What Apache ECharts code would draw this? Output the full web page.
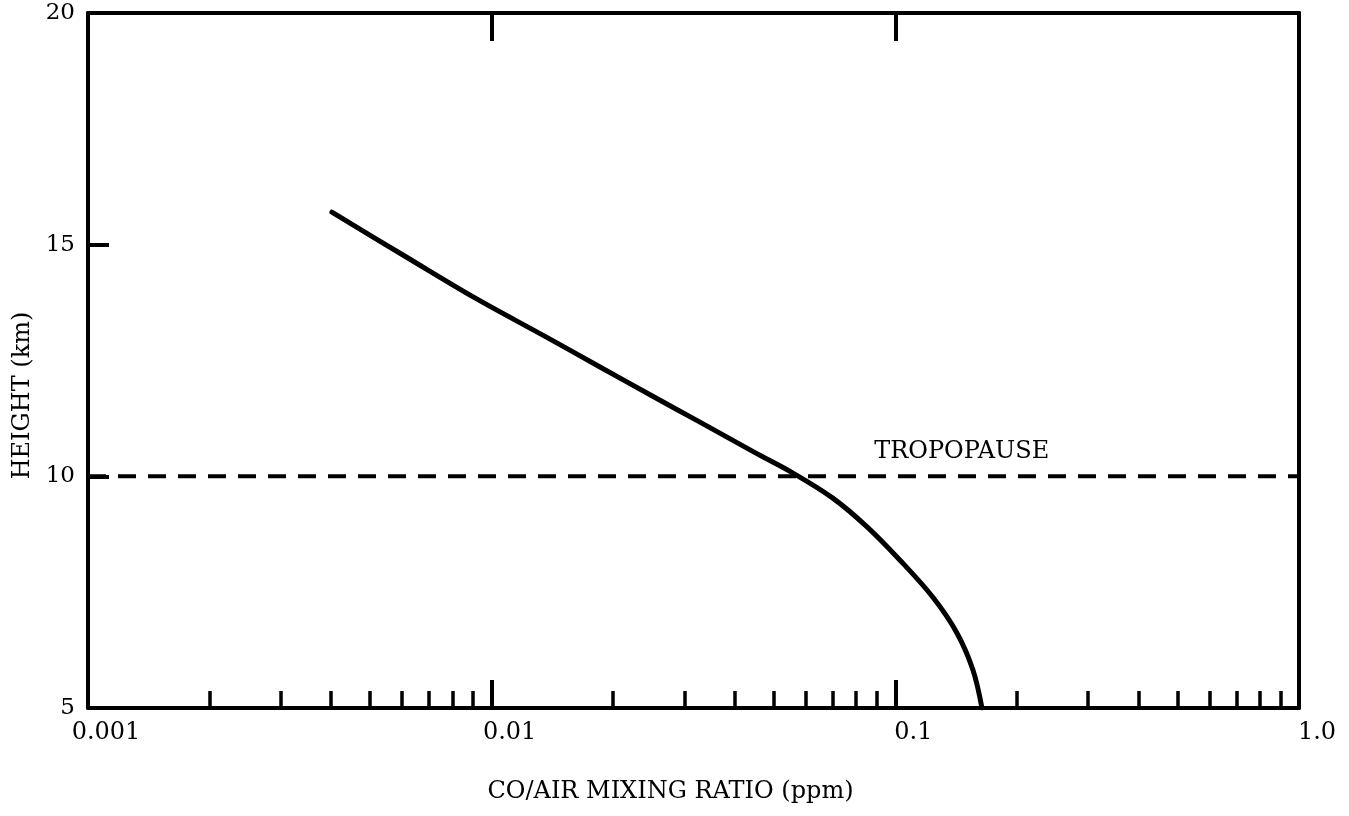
<!DOCTYPE html>
<html>
<head>
<meta charset="utf-8">
<script src="https://cdn.jsdelivr.net/npm/echarts@6/dist/echarts.min.js"></script>
<style>
  html, body { margin: 0; padding: 0; background: #fff; }
  #chart { width: 1349px; height: 816px; }
</style>
</head>
<body>
<div id="chart"></div>
<script>
// ---- data ----
const coMixingRatio = [0.00402, 0.00610, 0.00909, 0.01363, 0.01855, 0.02481, 0.03281, 0.04515, 0.05578, 0.0700, 0.0851, 0.1027, 0.1239, 0.1421, 0.1557, 0.1639];
const heightKm      = [15.70, 14.75, 13.85, 13.01, 12.36, 11.75, 11.17, 10.50, 10.07, 9.53, 8.91, 8.19, 7.39, 6.62, 5.82, 5.0];

const tropopauseX = [0.001, 1.0];
const tropopauseY = [10, 10];
const tropopauseText = 'TROPOPAUSE';
const tropopauseLabelAt = [0.146, 10.52];

const xTickValues = [0.001, 0.01, 0.1, 1];
const xTickLabels = ['0.001', '0.01', '0.1', '1.0'];
const xMinorTicks = [0.002, 0.003, 0.004, 0.005, 0.006, 0.007, 0.008, 0.009,
                     0.02, 0.03, 0.04, 0.05, 0.06, 0.07, 0.08, 0.09,
                     0.2, 0.3, 0.4, 0.5, 0.6, 0.7, 0.8, 0.9];
const yTickValues = [5, 10, 15, 20];

const xName = 'CO/AIR MIXING RATIO (ppm)';
const yName = 'HEIGHT (km)';

// ---- chart ----
const FONT = 'DejaVu Serif';
const INK = '#000';

const curve = coMixingRatio.map((x, i) => [x, heightKm[i]]);
const tropo = tropopauseX.map((x, i) => [x, tropopauseY[i]]);

const chart = echarts.init(document.getElementById('chart'), null, { renderer: 'canvas' });

const xBase = {
  type: 'log', logBase: 10, min: xTickValues[0], max: xTickValues[xTickValues.length - 1],
  splitLine: { show: false }, minorTick: { show: false }, minorSplitLine: { show: false }
};

chart.setOption({
  animation: false,
  backgroundColor: '#fff',
  grid: { left: 88, right: 50, top: 13, bottom: 108, containLabel: false },
  xAxis: [
    Object.assign({}, xBase, {
      position: 'bottom',
      name: xName, nameLocation: 'middle', nameGap: 72,
      nameTextStyle: { fontFamily: FONT, fontSize: 24, color: INK, padding: [0, 46, 0, 0] },
      axisLine: { show: true, lineStyle: { color: INK, width: 4 } },
      axisTick: { show: true, inside: true, length: 28, lineStyle: { color: INK, width: 4 } },
      axisLabel: {
        show: true, margin: 13, fontFamily: FONT, fontSize: 24, color: INK,
        padding: [0, 0, 0, 36],
        formatter: v => { const i = xTickValues.findIndex(t => Math.abs(t - v) / t < 1e-6); return i >= 0 ? xTickLabels[i] : ''; }
      }
    }),
    Object.assign({}, xBase, {
      position: 'bottom',
      axisLine: { show: false },
      axisTick: { show: true, inside: true, length: 17, customValues: xMinorTicks, lineStyle: { color: INK, width: 3.5 } },
      axisLabel: { show: false }
    }),
    Object.assign({}, xBase, {
      position: 'top',
      axisLine: { show: true, lineStyle: { color: INK, width: 4 } },
      axisTick: { show: true, inside: true, length: 28, lineStyle: { color: INK, width: 4 } },
      axisLabel: { show: false }
    })
  ],
  yAxis: [
    {
      type: 'value', position: 'left', min: yTickValues[0], max: yTickValues[yTickValues.length - 1], interval: 5,
      name: yName, nameLocation: 'middle', nameGap: 52, nameRotate: 90,
      nameTextStyle: { fontFamily: FONT, fontSize: 24, color: INK, padding: [0, 70, 0, 0] },
      axisLine: { show: true, lineStyle: { color: INK, width: 4 } },
      axisTick: { show: true, inside: true, length: 21, lineStyle: { color: INK, width: 4 } },
      axisLabel: { show: true, margin: 13, fontFamily: FONT, fontSize: 23, color: INK },
      splitLine: { show: false }
    },
    {
      type: 'value', position: 'right', min: yTickValues[0], max: yTickValues[yTickValues.length - 1], interval: 5,
      axisLine: { show: true, lineStyle: { color: INK, width: 4 } },
      axisTick: { show: false }, axisLabel: { show: false }, splitLine: { show: false }
    }
  ],
  series: [
    {
      type: 'line', xAxisIndex: 0, yAxisIndex: 0, data: tropo,
      showSymbol: false, symbol: 'none', silent: true,
      lineStyle: { color: INK, width: 4, type: [18, 12] },
      markPoint: {
        symbol: 'circle', symbolSize: 0, silent: true,
        label: { show: true, position: 'inside', formatter: tropopauseText, fontFamily: FONT, fontSize: 24, color: INK },
        data: [{ coord: tropopauseLabelAt }]
      }
    },
    {
      type: 'line', xAxisIndex: 0, yAxisIndex: 0, data: curve,
      smooth: 0.35, showSymbol: false, symbol: 'none', silent: true,
      lineStyle: { color: INK, width: 5, cap: 'round', join: 'round' }
    }
  ]
});
</script>
</body>
</html>
